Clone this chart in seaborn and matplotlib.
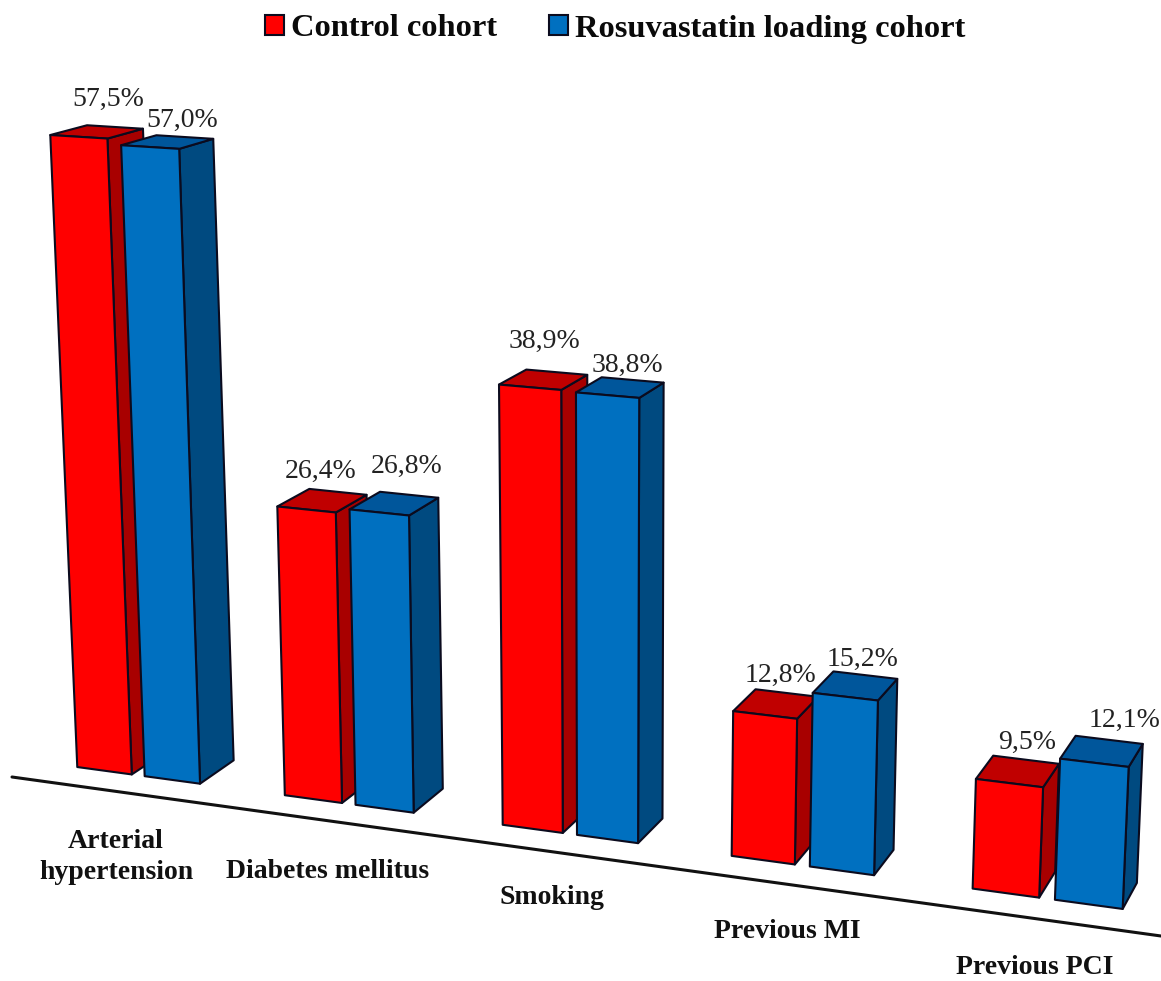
import numpy as np
import pandas as pd
import seaborn as sns
from matplotlib import pyplot as plt
from matplotlib.patches import Polygon
from matplotlib.transforms import Affine2D, Transform

# values
factors = ['Arterial\nhypertension', 'Diabetes mellitus', 'Smoking', 'Previous MI', 'Previous PCI']
control = [57.5, 26.4, 38.9, 12.8, 9.5]
rosuvastatin = [57.0, 26.8, 38.8, 15.2, 12.1]
cohorts = ['Control cohort', 'Rosuvastatin loading cohort']

# colours for each cohort: front, side, top
front_colors = ['#FF0000', '#0070C0']
side_colors = ['#A80000', '#004A80']
top_colors = ['#C00000', '#00569B']
edge_color = '#0B0B1E'

# label layout, in image pixels
value_offsets = [[(29, 37), (32, 27)], [(14, 38), (27, 46)], [(14, 46), (20, 30)],
                 [(15, 40), (17, 37)], [(18, 41), (30, 42)]]
factor_pos = [(116, 857), (328, 872), (552, 898), (787, 932), (1035, 968)]

# perspective of the picture: plot corners and where they land in the image
plane_pts = [(-0.30, 0), (4.30, 0), (-0.30, 57.5), (4.30, 12.1)]
image_pts = [(77, 767), (1123, 909), (50, 135), (1129, 767)]
vanish = np.array([1800.0, -330.0])
depth = 0.021


def homography(src, dst):
    a = []
    b = []
    for (u, v), (x, y) in zip(src, dst):
        a.append([u, v, 1, 0, 0, 0, -u * x, -v * x])
        a.append([0, 0, 0, u, v, 1, -u * y, -v * y])
        b += [x, y]
    return np.append(np.linalg.solve(np.array(a, float), np.array(b, float)), 1).reshape(3, 3)


class Perspective(Transform):
    input_dims = 2
    output_dims = 2
    is_affine = False

    def __init__(self, h):
        super().__init__()
        self.h = h

    def transform_non_affine(self, values):
        values = np.asarray(values, float)
        p = np.column_stack([values, np.ones(len(values))]) @ self.h.T
        return p[:, :2] / p[:, 2:]


data = pd.DataFrame({
    'factor': factors * 2,
    'value': control + rosuvastatin,
    'cohort': [cohorts[0]] * 5 + [cohorts[1]] * 5,
})

sns.set_theme(style='white')
plt.rcParams['font.family'] = ['Liberation Serif', 'DejaVu Serif']

fig = plt.figure(figsize=(11.61, 9.81), dpi=100)
ax = fig.add_axes([0, 0, 1, 1])

sns.barplot(data=data, x='factor', y='value', hue='cohort', order=factors, hue_order=cohorts,
            palette=front_colors, saturation=1, width=0.66, gap=0.19, edgecolor=edge_color,
            linewidth=1.5, ax=ax)

handles, labels = ax.get_legend_handles_labels()
ax.legend(handles, labels, ncol=2, loc='center', bbox_to_anchor=(615 / 1161, 1 - 29 / 981),
          frameon=False, handlelength=0.6, handleheight=0.6, handletextpad=0.2,
          columnspacing=1.6, borderpad=0, labelcolor='#0A0A0A',
          prop={'weight': 'bold', 'size': 23.4})

to_image = Perspective(homography(plane_pts, image_pts))
pixels = Affine2D().scale(1, -1).translate(0, 981)
scene = to_image + pixels

# turn every seaborn bar into a box: side and top are built from the bar's own corners
for c, container in enumerate(ax.containers):
    for i, bar in enumerate(container.patches):
        x0, w, h = bar.get_x(), bar.get_width(), bar.get_height()
        bl, br, tr, tl = to_image.transform([(x0, 0), (x0 + w, 0), (x0 + w, h), (x0, h)])
        back = lambda p: p + depth * (vanish - p)
        order = 3 + 3 * (2 * i + c)
        ax.add_patch(Polygon([br, tr, back(tr), back(br)], closed=True, facecolor=side_colors[c],
                             edgecolor=edge_color, lw=1.5, transform=pixels, clip_on=False,
                             joinstyle='round', zorder=order))
        ax.add_patch(Polygon([tl, tr, back(tr), back(tl)], closed=True, facecolor=top_colors[c],
                             edgecolor=edge_color, lw=1.5, transform=pixels, clip_on=False,
                             joinstyle='round', zorder=order + 1))
        bar.set_transform(scene)
        bar.set_clip_on(False)
        bar.set_joinstyle('round')
        bar.set_zorder(order + 2)
        dx, dy = value_offsets[i][c]
        ax.annotate(f'{h:.1f}%'.replace('.', ','), xy=(x0 + w / 2, h), xycoords=scene,
                    xytext=(dx, dy), textcoords='offset pixels', ha='center', va='center',
                    fontsize=20, color='#222222', zorder=60)

# floor line
ax.plot([12, 1161], [777, 936], color='#111111', lw=2.2, transform=pixels, clip_on=False, zorder=2)

for name, (px, py) in zip(factors, factor_pos):
    ax.text(px, py, name, transform=pixels, ha='center', va='center', fontsize=20,
            fontweight='bold', color='#111111', linespacing=1.35, zorder=60)

ax.set_axis_off()
fig.savefig('out.png', dpi=100, facecolor='white')
